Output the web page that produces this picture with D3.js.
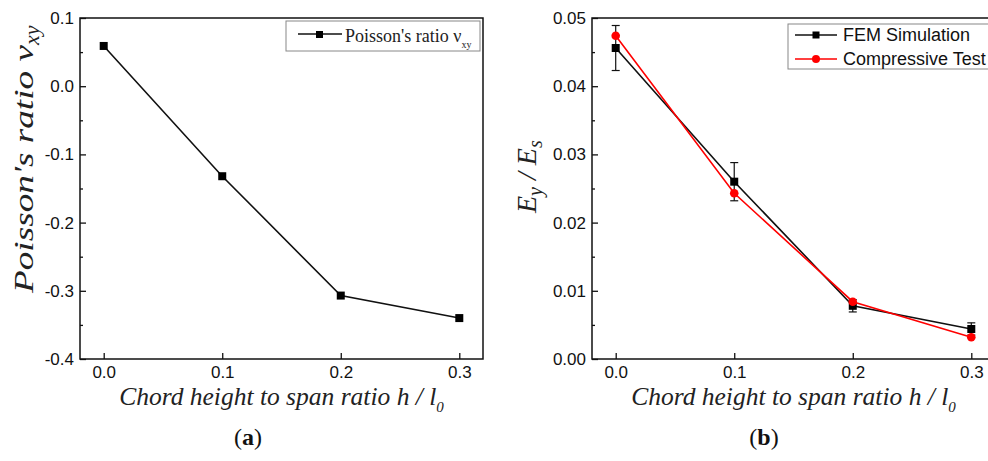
<!DOCTYPE html>
<html>
<head>
<meta charset="utf-8">
<script src="https://cdn.jsdelivr.net/npm/d3@7"></script>
<style>
    body { margin: 0; background: #fff; }
    svg { display: block; }
    .tick text { font-family: "Liberation Sans", Arial, sans-serif; font-size: 17px; fill: #111; }
    .tick line { stroke: #111; stroke-width: 1.3; }
</style>
</head>
<body>
<div id="chart"></div>
<script>
// chord height to span ratio h / l0
const hRatio = [0.0, 0.1, 0.2, 0.3];

// (a) Poisson's ratio
const poisson = [0.059, -0.132, -0.307, -0.340];

// (b) relative modulus Ey / Es
const femModulus = [0.0456, 0.0260, 0.0078, 0.0044];
const femError = [0.0033, 0.0028, 0.0009, 0.0009];
const testModulus = [0.0474, 0.0243, 0.0084, 0.0032];

const xTicks = [0.0, 0.1, 0.2, 0.3];
const poissonTicks = [-0.4, -0.3, -0.2, -0.1, 0.0, 0.1];
const poissonMinor = [-0.35, -0.25, -0.15, -0.05, 0.05];
const modulusTicks = [0.00, 0.01, 0.02, 0.03, 0.04, 0.05];
const modulusMinor = [0.005, 0.015, 0.025, 0.035, 0.045];

(function() {
    const width = 988;
    const height = 461;
    const serif = "'Liberation Serif', 'Times New Roman', serif";
    const sans = "'Liberation Sans', Arial, sans-serif";

    const svg = d3.select("#chart").append("svg")
        .attr("width", width)
        .attr("height", height);

    svg.append("rect").attr("width", width).attr("height", height).attr("fill", "#fff");

    const top = 18, bottom = 359;

    function drawFrame(g, x, y, yTicks, yMinor, yFmt) {
        const x0 = x.range()[0], x1 = x.range()[1];

        g.append("g")
            .attr("transform", `translate(0,${bottom})`)
            .call(d3.axisBottom(x).tickValues(xTicks).tickSizeInner(-6).tickSizeOuter(0)
                .tickPadding(7).tickFormat(d => d.toFixed(1)))
            .call(a => a.select(".domain").remove());

        g.append("g")
            .attr("transform", `translate(${x0},0)`)
            .call(d3.axisLeft(y).tickValues(yTicks).tickSizeInner(-6).tickSizeOuter(0)
                .tickPadding(6).tickFormat(yFmt))
            .call(a => a.select(".domain").remove());

        g.append("g") // minor ticks
            .attr("transform", `translate(${x0},0)`)
            .call(d3.axisLeft(y).tickValues(yMinor).tickSizeInner(-3).tickSizeOuter(0).tickFormat(""))
            .call(a => a.select(".domain").remove());

        g.append("rect")
            .attr("x", x0).attr("y", top)
            .attr("width", x1 - x0).attr("height", bottom - top)
            .attr("fill", "none").attr("stroke", "#111").attr("stroke-width", 1.5);
    }

    function xTitle(g, x) {
        const t = g.append("text")
            .attr("x", (x.range()[0] + x.range()[1]) / 2)
            .attr("y", 405)
            .attr("text-anchor", "middle")
            .attr("font-family", serif)
            .attr("font-style", "italic")
            .attr("font-size", 25.5)
            .attr("fill", "#222");
        t.append("tspan").text("Chord height to span ratio h / l");
        t.append("tspan").attr("dy", 7).attr("font-size", 15).text("0");
    }

    // ---------- (a) ----------
    const xa = d3.scaleLinear().domain([-0.02, 0.32]).range([80, 483]);
    const ya = d3.scaleLinear().domain([-0.4, 0.1]).range([bottom, top]);
    const ga = svg.append("g");

    drawFrame(ga, xa, ya, poissonTicks, poissonMinor, d => d.toFixed(1));

    ga.append("path")
        .datum(hRatio.map((h, i) => [h, poisson[i]]))
        .attr("fill", "none")
        .attr("stroke", "#111")
        .attr("stroke-width", 1.6)
        .attr("d", d3.line().x(d => xa(d[0])).y(d => ya(d[1])));

    ga.append("g")
        .selectAll("rect")
        .data(hRatio.map((h, i) => [h, poisson[i]]))
        .enter()
        .append("rect")
        .attr("x", d => xa(d[0]) - 4)
        .attr("y", d => ya(d[1]) - 4)
        .attr("width", 8).attr("height", 8)
        .attr("fill", "#000");

    // legend (a)
    const la = ga.append("g");
    la.append("rect").attr("x", 286).attr("y", 21).attr("width", 194).attr("height", 30)
        .attr("fill", "#fff").attr("stroke", "#888").attr("stroke-width", 1);
    la.append("line").attr("x1", 298).attr("x2", 342).attr("y1", 34).attr("y2", 34)
        .attr("stroke", "#111").attr("stroke-width", 1.6);
    la.append("rect").attr("x", 316).attr("y", 31).attr("width", 7).attr("height", 7).attr("fill", "#000");
    const lat = la.append("text").attr("x", 345).attr("y", 42)
        .attr("font-family", serif).attr("font-size", 18).attr("fill", "#222");
    lat.append("tspan").text("Poisson's ratio ν");
    lat.append("tspan").attr("dy", 6).attr("font-size", 10).text("xy");

    // y title (a) - stretched like the original
    const yta = ga.append("text")
        .attr("transform", "translate(33,293) rotate(-90)")
        .attr("font-family", serif).attr("font-style", "italic").attr("font-size", 27).attr("fill", "#222");
    yta.append("tspan").attr("textLength", 248).attr("lengthAdjust", "spacingAndGlyphs")
        .text("Poisson's ratio ν");
    yta.append("tspan").attr("dy", 6).attr("font-size", 22).text("xy");

    xTitle(ga, xa);

    ga.append("text").attr("x", 248).attr("y", 445).attr("text-anchor", "middle")
        .attr("font-family", serif).attr("font-size", 24).attr("fill", "#111")
        .html("(<tspan font-weight='bold'>a</tspan>)");

    // ---------- (b) ----------
    const xb = d3.scaleLinear().domain([-0.02, 0.32]).range([592, 995]);
    const yb = d3.scaleLinear().domain([0, 0.05]).range([bottom, top]);
    const gb = svg.append("g");

    drawFrame(gb, xb, yb, modulusTicks, modulusMinor, d => d.toFixed(2));

    const fem = hRatio.map((h, i) => ({ h: h, v: femModulus[i], e: femError[i] }));
    const test = hRatio.map((h, i) => ({ h: h, v: testModulus[i] }));
    const lineB = d3.line().x(d => xb(d.h)).y(d => yb(d.v));

    // error bars
    const eb = gb.append("g").attr("stroke", "#111").attr("stroke-width", 1.2);
    eb.selectAll("line.v").data(fem).enter().append("line")
        .attr("x1", d => xb(d.h)).attr("x2", d => xb(d.h))
        .attr("y1", d => yb(d.v + d.e)).attr("y2", d => yb(d.v - d.e));
    eb.selectAll("line.t").data(fem).enter().append("line")
        .attr("x1", d => xb(d.h) - 4).attr("x2", d => xb(d.h) + 4)
        .attr("y1", d => yb(d.v + d.e)).attr("y2", d => yb(d.v + d.e));
    eb.selectAll("line.b").data(fem).enter().append("line")
        .attr("x1", d => xb(d.h) - 4).attr("x2", d => xb(d.h) + 4)
        .attr("y1", d => yb(d.v - d.e)).attr("y2", d => yb(d.v - d.e));

    gb.append("path").datum(fem)
        .attr("fill", "none").attr("stroke", "#111").attr("stroke-width", 1.6)
        .attr("d", lineB);

    gb.append("g").selectAll("rect").data(fem).enter().append("rect")
        .attr("x", d => xb(d.h) - 4).attr("y", d => yb(d.v) - 4)
        .attr("width", 8).attr("height", 8).attr("fill", "#000");

    gb.append("path").datum(test)
        .attr("fill", "none").attr("stroke", "#f00").attr("stroke-width", 1.6)
        .attr("d", lineB);

    gb.append("g").selectAll("circle").data(test).enter().append("circle")
        .attr("cx", d => xb(d.h)).attr("cy", d => yb(d.v))
        .attr("r", 4.3).attr("fill", "#f00");

    // legend (b)
    const lb = gb.append("g");
    lb.append("rect").attr("x", 788).attr("y", 24).attr("width", 220).attr("height", 45)
        .attr("fill", "#fff").attr("stroke", "#888").attr("stroke-width", 1);
    const legendRows = [
        { name: "FEM Simulation", color: "#111", y: 35, marker: "square" },
        { name: "Compressive Test", color: "#f00", y: 59, marker: "circle" }
    ];
    legendRows.forEach(r => {
        lb.append("line").attr("x1", 795).attr("x2", 837).attr("y1", r.y).attr("y2", r.y)
            .attr("stroke", r.color).attr("stroke-width", 1.6);
        if (r.marker == "square") {
            lb.append("rect").attr("x", 812.5).attr("y", r.y - 3.5).attr("width", 7).attr("height", 7).attr("fill", "#000");
        } else {
            lb.append("circle").attr("cx", 816).attr("cy", r.y).attr("r", 4).attr("fill", "#f00");
        }
        lb.append("text").attr("x", 843).attr("y", r.y + 6)
            .attr("font-family", sans).attr("font-size", 18).attr("fill", "#111")
            .text(r.name);
    });

    // y title (b)
    const ytb = gb.append("text")
        .attr("transform", "translate(536,213) rotate(-90)")
        .attr("font-family", serif).attr("font-style", "italic").attr("font-size", 28).attr("fill", "#222");
    ytb.append("tspan").text("E");
    ytb.append("tspan").attr("dy", 6).attr("font-size", 20).text("y");
    ytb.append("tspan").attr("dy", -6).text(" / E");
    ytb.append("tspan").attr("dy", 6).attr("font-size", 20).text("s");

    xTitle(gb, xb);

    gb.append("text").attr("x", 764).attr("y", 445).attr("text-anchor", "middle")
        .attr("font-family", serif).attr("font-size", 24).attr("fill", "#111")
        .html("(<tspan font-weight='bold'>b</tspan>)");
})();
</script>
</body>
</html>
